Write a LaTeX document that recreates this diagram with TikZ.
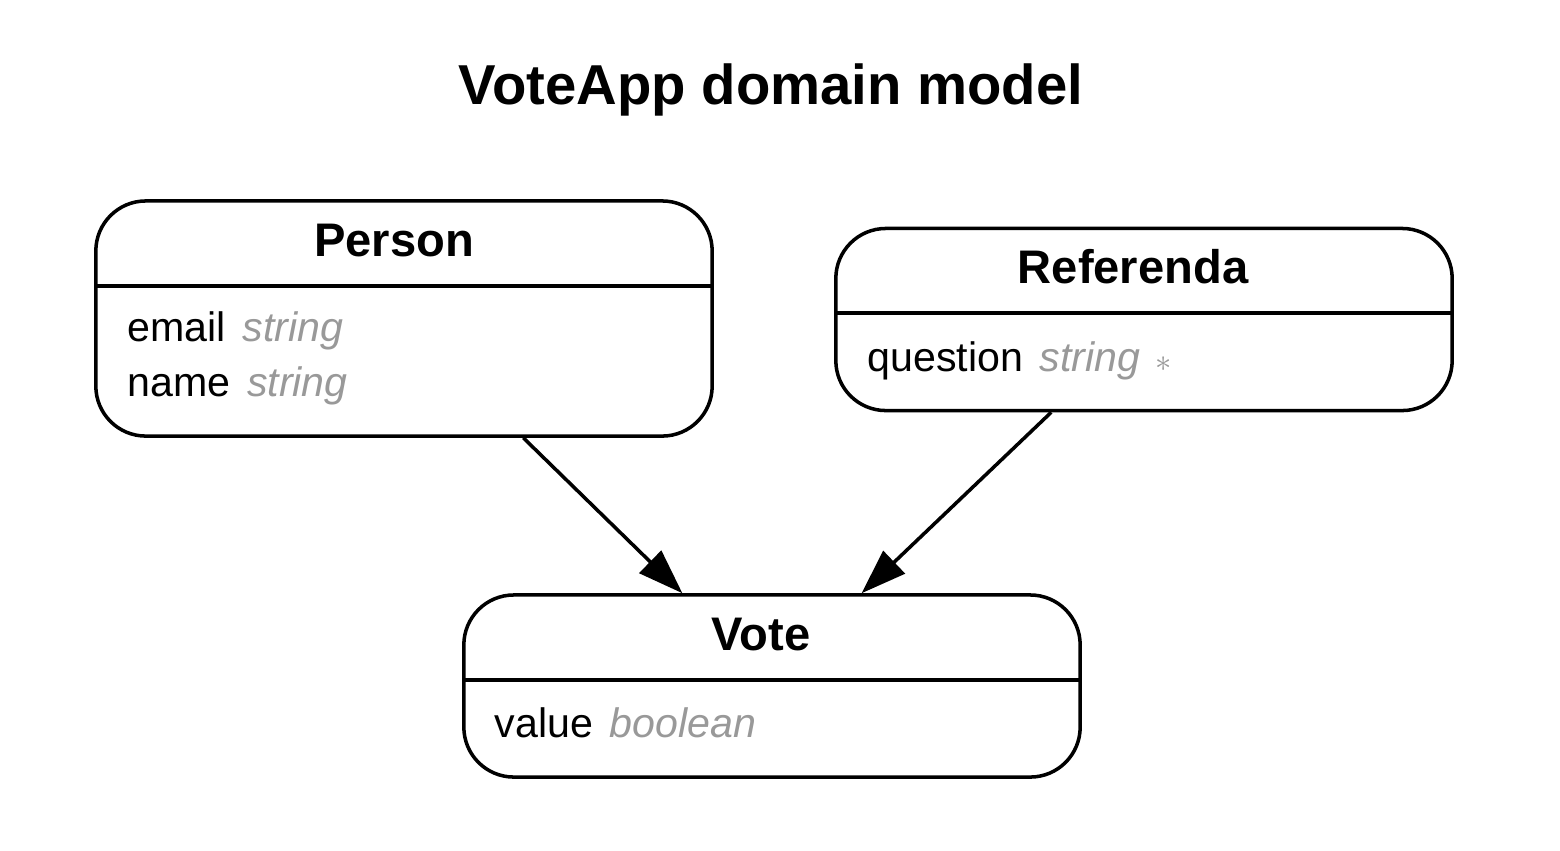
\documentclass[tikz,border=0pt]{standalone}
\usepackage{fontspec}
\setmainfont{Liberation Sans}
\usetikzlibrary{arrows.meta}
\definecolor{typegray}{RGB}{153,153,153}
\newcommand{\kind}[1]{\hspace{0.05cm}\textcolor{typegray}{\itshape #1}}
\begin{document}
\begin{tikzpicture}[
    x=0.01cm, y=-0.01cm,
    entity/.style={rectangle, draw, line width=1pt, rounded corners=0.5cm, minimum width=6.16cm, inner sep=0pt},
    header/.style={anchor=base, inner sep=0pt, font=\fontsize{13.4}{16}\selectfont\bfseries},
    attr/.style={anchor=base west, inner sep=0pt, font=\fontsize{11.7}{14}\selectfont},
    divider/.style={line width=1pt},
    title/.style={anchor=base, inner sep=0pt, font=\fontsize{16}{19}\selectfont\bfseries},
    arrow/.style={line width=1pt, -{Triangle[length=0.45cm, width=0.31cm]}}
]
    \useasboundingbox (0,0) rectangle (1560,850);

    % Title
    \node [title] (title) at (771,104) {VoteApp domain model};

    % Person
    \node [entity, minimum height=2.35cm] (person) at (404,318.5) {};
    \node [header] (person-name) at (394,256) {Person};
    \draw [divider] (person.west |- 0,286) -- (person.east |- 0,286);
    \node [attr] (person-email) at (127,341) {email \kind{string}};
    \node [attr] (person-nm) at (127,396) {name \kind{string}};

    % Referenda
    \node [entity, minimum height=1.82cm] (referenda) at (1144,319.5) {};
    \node [header] (referenda-name) at (1133,283) {Referenda};
    \draw [divider] (referenda.west |- 0,313) -- (referenda.east |- 0,313);
    \node [attr] (referenda-question) at (867,371) {question \kind{string} \hspace{0.04cm}\textcolor{typegray}{\fontsize{9}{9}\selectfont$\ast$}};

    % Vote
    \node [entity, minimum height=1.82cm] (vote) at (772,686) {};
    \node [header] (vote-name) at (761,650) {Vote};
    \draw [divider] (vote.west |- 0,680) -- (vote.east |- 0,680);
    \node [attr] (vote-value) at (494,737) {value \kind{boolean}};

    % Arrows
    \draw [arrow] (person.-45) -- (vote.134);
    \draw [arrow] (referenda.-135) -- (vote.46);
\end{tikzpicture}
\end{document}
